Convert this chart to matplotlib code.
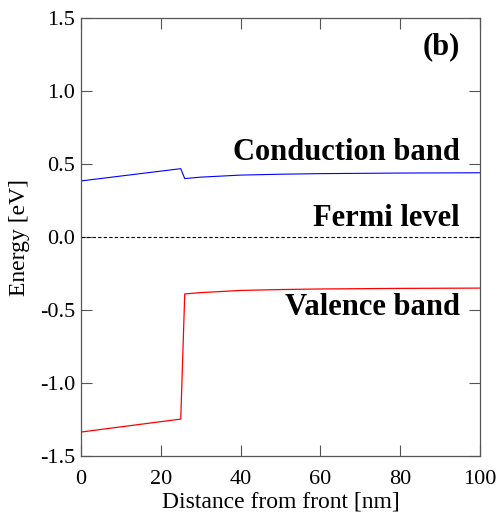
import matplotlib
matplotlib.use("Agg")
import matplotlib.pyplot as plt

plt.rcParams['font.family'] = ['Liberation Serif', 'DejaVu Serif']

# Band edge profiles (distance in nm, energy in eV)
cb_x = [0, 25, 26, 30, 40, 50, 60, 80, 100]
cb_e = [0.384, 0.468, 0.400, 0.410, 0.424, 0.430, 0.434, 0.438, 0.440]

vb_x = [0, 25, 26, 30, 40, 50, 60, 80, 100]
vb_e = [-1.336, -1.247, -0.390, -0.381, -0.366, -0.360, -0.356, -0.352, -0.350]

fermi_x = [0, 100]
fermi_e = [0.0, 0.0]

xticks = [0, 20, 40, 60, 80, 100]
yticks = [-1.5, -1.0, -0.5, 0.0, 0.5, 1.0, 1.5]

fig = plt.figure(figsize=(5.02, 5.18), dpi=100)
ax = fig.add_axes([81/502, 1 - 456/518, (480-81)/502, (456-18)/518])

ax.plot(cb_x, cb_e, color='blue', lw=0.8)
ax.plot(vb_x, vb_e, color='red', lw=0.9)
ax.plot(fermi_x, fermi_e, color='black', lw=0.8, ls=(0, (3, 2)))

ax.set_xlim(0, 100)
ax.set_ylim(-1.5, 1.5)
ax.set_xticks(xticks)
ax.set_yticks(yticks)
ax.set_xticklabels([str(t) for t in xticks])
ax.set_yticklabels(['%.1f' % t for t in yticks])
ax.tick_params(direction='in', top=True, right=True, length=8, width=0.8,
               labelsize=16, color='#555555', pad=4)
ax.tick_params(axis='x', pad=10)
for s in ax.spines.values():
    s.set_color('#555555')
    s.set_linewidth(0.9)

ax.set_xlabel('Distance from front [nm]', fontsize=17, labelpad=2)
ax.set_ylabel('Energy [eV]', fontsize=17, labelpad=7)

ax.text(95, 1.30, '(b)', fontsize=22, fontweight='bold', ha='right', va='center')
ax.text(95, 0.58, 'Conduction band', fontsize=22, fontweight='bold', ha='right', va='center')
ax.text(95, 0.13, 'Fermi level', fontsize=22, fontweight='bold', ha='right', va='center')
ax.text(95, -0.48, 'Valence band', fontsize=22, fontweight='bold', ha='right', va='center')

fig.savefig('out.png', dpi=100)
